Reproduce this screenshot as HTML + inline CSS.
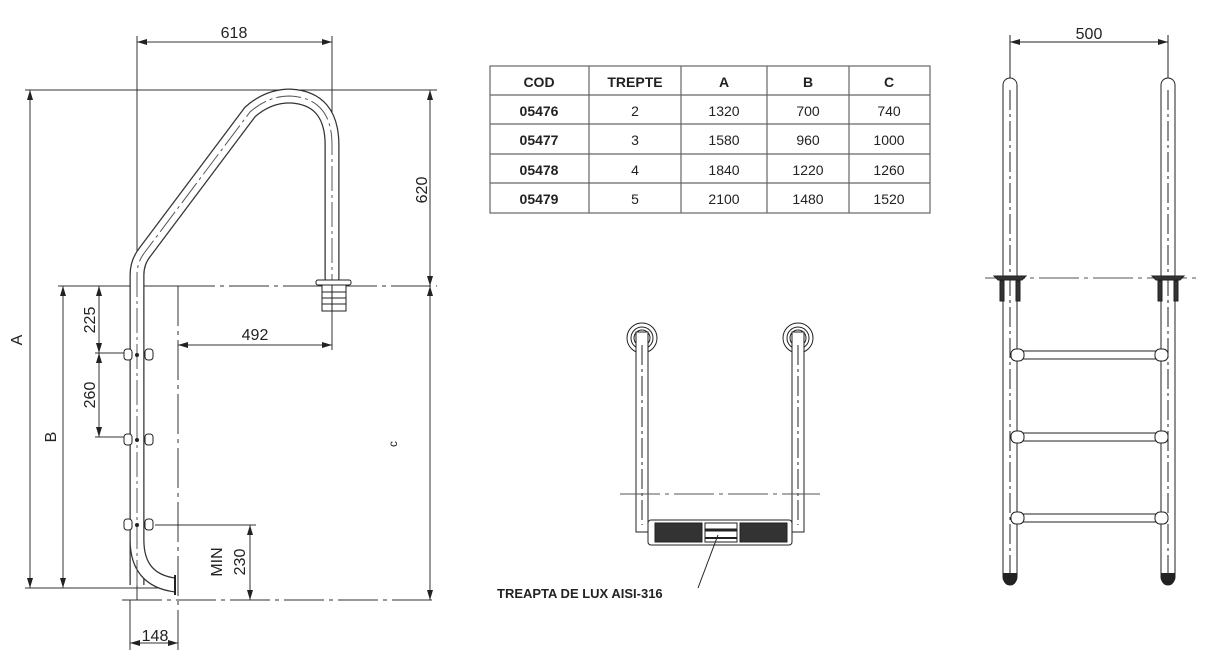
<!DOCTYPE html>
<html><head><meta charset="utf-8"><style>
body{margin:0;background:#fff}
svg{display:block}
text{font-family:"Liberation Sans",sans-serif;fill:#222}
</style></head><body>
<svg width="1211" height="652" viewBox="0 0 1211 652" xmlns="http://www.w3.org/2000/svg">
<defs>
<marker id="ar" markerWidth="10" markerHeight="6" refX="10" refY="3" orient="auto-start-reverse" markerUnits="userSpaceOnUse"><path d="M0,0 L10,3 L0,6 z" fill="#222"/></marker>
</defs>
<g stroke="#333" stroke-width="1" fill="none">
<!-- left drawing dims -->
<line x1="137" y1="36" x2="137" y2="600"/>
<line x1="332" y1="36" x2="332" y2="350"/>
<line x1="137" y1="42" x2="332" y2="42" marker-start="url(#ar)" marker-end="url(#ar)"/>
<line x1="25" y1="90" x2="437" y2="90"/>
<line x1="30" y1="90" x2="30" y2="588" marker-start="url(#ar)" marker-end="url(#ar)"/>
<line x1="58" y1="286" x2="175" y2="286"/>
<line x1="175" y1="286" x2="437" y2="286" stroke-dasharray="40,5,4,5"/>
<line x1="63" y1="286" x2="63" y2="588" marker-start="url(#ar)" marker-end="url(#ar)"/>
<line x1="25" y1="588" x2="175" y2="588"/>
<line x1="122" y1="600" x2="437" y2="600" stroke-dasharray="40,5,4,5"/>
<line x1="430" y1="90" x2="430" y2="286" marker-start="url(#ar)" marker-end="url(#ar)"/>
<line x1="430" y1="286" x2="430" y2="600" marker-start="url(#ar)" marker-end="url(#ar)"/>
<line x1="178" y1="286" x2="178" y2="650" stroke-dasharray="40,5,4,5"/>
<line x1="130" y1="600" x2="130" y2="650"/>
<line x1="130" y1="643" x2="178" y2="643" marker-start="url(#ar)" marker-end="url(#ar)"/>
<line x1="178" y1="345" x2="332" y2="345" marker-start="url(#ar)" marker-end="url(#ar)"/>
<line x1="99" y1="286" x2="99" y2="353" marker-start="url(#ar)" marker-end="url(#ar)"/>
<line x1="99" y1="353" x2="99" y2="437" marker-start="url(#ar)" marker-end="url(#ar)"/>
<line x1="95" y1="353" x2="125" y2="353"/>
<line x1="95" y1="437" x2="125" y2="437"/>
<line x1="155" y1="525" x2="256" y2="525"/>
<line x1="250" y1="525" x2="250" y2="600" marker-start="url(#ar)" marker-end="url(#ar)"/>
</g>
<!-- handrail -->
<g fill="none">
<path d="M137,585 L137,275 Q137,262 145,252 L250,112 Q268,96 290,96 Q332,98 332,145 L332,282" stroke="#333" stroke-width="15"/>
<path d="M137,585 L137,275 Q137,262 145,252 L250,112 Q268,96 290,96 Q332,98 332,145 L332,282" stroke="#fff" stroke-width="12.5"/>
<path d="M137,540 Q137,580 175,585" stroke="#333" stroke-width="15"/>
<path d="M137,540 Q137,580 175,585" stroke="#fff" stroke-width="12.5"/>
<path d="M137,585 L137,275 Q137,262 145,252 L250,112 Q268,96 290,96 Q332,98 332,145 L332,282" stroke="#555" stroke-width="1" stroke-dasharray="25,4,3,4"/>
</g>
<g stroke="#222" fill="#fff" stroke-width="1">
<rect x="316" y="280" width="35" height="5" rx="2"/>
<rect x="322" y="285" width="24" height="26"/>
<line x1="322" y1="292" x2="346" y2="292"/><line x1="322" y1="298" x2="346" y2="298"/><line x1="322" y1="304" x2="346" y2="304"/>
<line x1="332" y1="285" x2="332" y2="311"/>
<rect x="124" y="349" width="8" height="11" rx="3"/><rect x="145" y="349" width="8" height="11" rx="3"/>
<rect x="124" y="434" width="8" height="11" rx="3"/><rect x="145" y="434" width="8" height="11" rx="3"/>
<rect x="124" y="519" width="8" height="11" rx="3"/><rect x="145" y="519" width="8" height="11" rx="3"/>
<line x1="175" y1="575" x2="175" y2="595" stroke-width="2"/>
</g>
<circle cx="137" cy="355" r="2" fill="#222"/><circle cx="137" cy="440" r="2" fill="#222"/><circle cx="137" cy="525" r="2" fill="#222"/>
<g font-size="16">
<text x="234" y="38" text-anchor="middle">618</text>
<text x="255" y="340" text-anchor="middle">492</text>
<text x="155" y="641" text-anchor="middle">148</text>
<text transform="translate(22,340) rotate(-90)" text-anchor="middle">A</text>
<text transform="translate(56,437) rotate(-90)" text-anchor="middle">B</text>
<text transform="translate(95,320) rotate(-90)" text-anchor="middle">225</text>
<text transform="translate(95,395) rotate(-90)" text-anchor="middle">260</text>
<text transform="translate(427,190) rotate(-90)" text-anchor="middle">620</text>
<text transform="translate(245,562) rotate(-90)" text-anchor="middle">230</text>
<text transform="translate(222,562) rotate(-90)" text-anchor="middle">MIN</text>
<text transform="translate(397,444) rotate(-90)" text-anchor="middle" font-size="12">c</text>
</g>
<!-- table -->
<g stroke="#666" stroke-width="1.2" fill="none">
<rect x="490" y="66" width="440" height="147"/>
<line x1="490" y1="95" x2="930" y2="95"/><line x1="490" y1="124" x2="930" y2="124"/>
<line x1="490" y1="154" x2="930" y2="154"/><line x1="490" y1="183" x2="930" y2="183"/>
<line x1="589" y1="66" x2="589" y2="213"/><line x1="681" y1="66" x2="681" y2="213"/>
<line x1="767" y1="66" x2="767" y2="213"/><line x1="849" y1="66" x2="849" y2="213"/>
</g>
<g font-size="14" text-anchor="middle">
<g font-weight="bold" fill="#111"><text x="539" y="87">COD</text><text x="635" y="87">TREPTE</text><text x="724" y="87">A</text><text x="808" y="87">B</text><text x="889" y="87">C</text>
<text x="539" y="116">05476</text><text x="539" y="145">05477</text><text x="539" y="175">05478</text><text x="539" y="204">05479</text></g>
<text x="635" y="116">2</text><text x="724" y="116">1320</text><text x="808" y="116">700</text><text x="889" y="116">740</text>
<text x="635" y="145">3</text><text x="724" y="145">1580</text><text x="808" y="145">960</text><text x="889" y="145">1000</text>
<text x="635" y="175">4</text><text x="724" y="175">1840</text><text x="808" y="175">1220</text><text x="889" y="175">1260</text>
<text x="635" y="204">5</text><text x="724" y="204">2100</text><text x="808" y="204">1480</text><text x="889" y="204">1520</text>
</g>
<!-- middle drawing -->
<g stroke="#222" fill="none" stroke-width="1">
<circle cx="642" cy="338" r="15" fill="#fff"/><circle cx="642" cy="338" r="11"/><circle cx="642" cy="338" r="8"/>
<circle cx="798" cy="338" r="15" fill="#fff"/><circle cx="798" cy="338" r="11"/><circle cx="798" cy="338" r="8"/>
<rect x="636" y="332" width="12" height="200" fill="#fff"/>
<rect x="792" y="332" width="12" height="200" fill="#fff"/>
<line x1="642" y1="345" x2="642" y2="525" stroke-dasharray="20,4,3,4"/>
<line x1="798" y1="345" x2="798" y2="525" stroke-dasharray="20,4,3,4"/>
<line x1="620" y1="494" x2="820" y2="494" stroke-dasharray="40,5,4,5" stroke="#555"/>
<rect x="648" y="520" width="144" height="25" rx="3" fill="#fff"/>
<rect x="655" y="523" width="47" height="19" fill="#333"/>
<rect x="740" y="523" width="47" height="19" fill="#333"/>
<rect x="705" y="523" width="32" height="19" fill="#fff"/>
<line x1="705" y1="530" x2="737" y2="530" stroke-width="3"/><line x1="705" y1="538" x2="737" y2="538" stroke-width="2"/>
<line x1="718" y1="535" x2="698" y2="588"/>
</g>
<text x="497" y="598" font-size="13" font-weight="bold" fill="#111">TREAPTA DE LUX AISI-316</text>
<!-- right drawing -->
<g stroke="#222" fill="#fff" stroke-width="1">
<line x1="1010" y1="35" x2="1010" y2="80" fill="none"/><line x1="1168" y1="35" x2="1168" y2="80" fill="none"/>
<line x1="1010" y1="42" x2="1168" y2="42" marker-start="url(#ar)" marker-end="url(#ar)"/>
<rect x="1003" y="78" width="14" height="506" rx="7"/>
<rect x="1161" y="78" width="14" height="506" rx="7"/>
<path d="M1003,573 Q1003,585 1010,585 Q1017,585 1017,573" fill="#222"/>
<path d="M1161,573 Q1161,585 1168,585 Q1175,585 1175,573" fill="#222"/>
<line x1="1010" y1="90" x2="1010" y2="585" stroke-dasharray="20,4,3,4" fill="none"/>
<line x1="1168" y1="90" x2="1168" y2="585" stroke-dasharray="20,4,3,4" fill="none"/>
<line x1="985" y1="278" x2="1200" y2="278" stroke="#555" stroke-dasharray="40,5,4,5" fill="none"/>
<path d="M994,276 L1026,276 L1022,280 L998,280 Z" fill="#333"/>
<path d="M1152,276 L1184,276 L1180,280 L1156,280 Z" fill="#333"/>
<rect x="1000" y="281" width="4" height="20" fill="#333"/><rect x="1016" y="281" width="4" height="20" fill="#333"/>
<rect x="1158" y="281" width="4" height="20" fill="#333"/><rect x="1174" y="281" width="4" height="20" fill="#333"/>
<rect x="1015" y="351" width="148" height="8"/><rect x="1015" y="433" width="148" height="8"/><rect x="1015" y="514" width="148" height="8"/>
<rect x="1011" y="349" width="13" height="12" rx="5"/><rect x="1155" y="349" width="13" height="12" rx="5"/>
<rect x="1011" y="431" width="13" height="12" rx="5"/><rect x="1155" y="431" width="13" height="12" rx="5"/>
<rect x="1011" y="512" width="13" height="12" rx="5"/><rect x="1155" y="512" width="13" height="12" rx="5"/>
</g>
<text x="1089" y="39" font-size="16" text-anchor="middle">500</text>
</svg>
</body></html>
